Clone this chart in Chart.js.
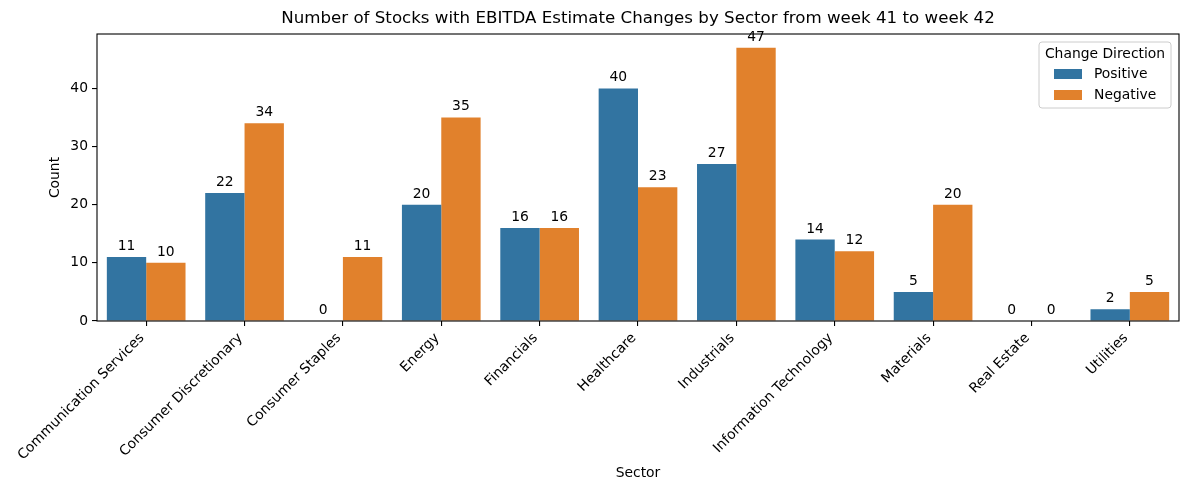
<!DOCTYPE html>
<html>
<head>
<meta charset="utf-8">
<script src="https://cdn.jsdelivr.net/npm/chart.js@4"></script>
<style>
  html, body { margin: 0; padding: 0; background: #fff; }
  #wrap { width: 1184px; height: 486px; }
</style>
</head>
<body>
<div id="wrap"><canvas id="c" width="1184" height="486"></canvas></div>
<script>
const categories = ["Communication Services", "Consumer Discretionary", "Consumer Staples", "Energy", "Financials", "Healthcare", "Industrials", "Information Technology", "Materials", "Real Estate", "Utilities"];
const positive = [11, 22, 0, 20, 16, 40, 27, 14, 5, 0, 2];
const negative = [10, 34, 11, 35, 16, 23, 47, 12, 20, 0, 5];
const seriesNames = ["Positive", "Negative"];
const yTicks = [0, 10, 20, 30, 40];
const titleText = "Number of Stocks with EBITDA Estimate Changes by Sector from week 41 to week 42";
const legendTitle = "Change Direction";

const COLORS = ["#3274a1", "#e1812c"];
const FONT = "DejaVu Sans";
const FS = 13.89;

Chart.defaults.color = "#000";
Chart.defaults.font.family = FONT;

const yMax = Math.max(...positive, ...negative) * 1.05;

const framePlugin = {
  id: "frame",
  afterDraw(chart) {
    const { ctx, chartArea: a } = chart;
    ctx.save();
    ctx.strokeStyle = "#000";
    ctx.lineWidth = 1.1;
    ctx.strokeRect(a.left, a.top, a.right - a.left, a.bottom - a.top);
    ctx.restore();
  }
};

const labelPlugin = {
  id: "barLabels",
  afterDatasetsDraw(chart) {
    const { ctx } = chart;
    ctx.save();
    ctx.font = FS + "px '" + FONT + "'";
    ctx.fillStyle = "#000";
    ctx.textAlign = "center";
    ctx.textBaseline = "alphabetic";
    chart.data.datasets.forEach((ds, i) => {
      const meta = chart.getDatasetMeta(i);
      meta.data.forEach((el, j) => {
        ctx.fillText(String(ds.data[j]), el.x, el.y - 7);
      });
    });
    ctx.restore();
  }
};

const legendPlugin = {
  id: "customLegend",
  afterDraw(chart) {
    const { ctx, chartArea: a } = chart;
    const w = 132, h = 66;
    const x = a.right - 8 - w, y = a.top + 8;
    ctx.save();
    ctx.beginPath();
    const r = 3;
    ctx.moveTo(x + r, y);
    ctx.arcTo(x + w, y, x + w, y + h, r);
    ctx.arcTo(x + w, y + h, x, y + h, r);
    ctx.arcTo(x, y + h, x, y, r);
    ctx.arcTo(x, y, x + w, y, r);
    ctx.closePath();
    ctx.fillStyle = "rgba(255,255,255,0.8)";
    ctx.fill();
    ctx.strokeStyle = "#cccccc";
    ctx.lineWidth = 1;
    ctx.stroke();
    ctx.font = FS + "px '" + FONT + "'";
    ctx.fillStyle = "#000";
    ctx.textBaseline = "middle";
    ctx.textAlign = "center";
    ctx.fillText(legendTitle, x + w / 2, y + 12);
    seriesNames.forEach((name, i) => {
      const cy = y + 32 + i * 21;
      ctx.fillStyle = COLORS[i];
      ctx.fillRect(x + 15, cy - 5, 28, 10);
      ctx.fillStyle = "#000";
      ctx.textAlign = "left";
      ctx.fillText(name, x + 55, cy);
    });
    ctx.restore();
  }
};

new Chart(document.getElementById("c"), {
  type: "bar",
  data: {
    labels: categories,
    datasets: [
      { label: seriesNames[0], data: positive, backgroundColor: COLORS[0], borderWidth: 0, categoryPercentage: 0.8, barPercentage: 1.0 },
      { label: seriesNames[1], data: negative, backgroundColor: COLORS[1], borderWidth: 0, categoryPercentage: 0.8, barPercentage: 1.0 }
    ]
  },
  options: {
    responsive: false,
    animation: false,
    devicePixelRatio: 1,
    layout: { padding: { left: 0, right: 5, top: 0, bottom: 0 } },
    plugins: {
      legend: { display: false },
      tooltip: { enabled: false },
      title: {
        display: true,
        text: titleText,
        fullSize: false,
        color: "#000",
        font: { family: FONT, size: 16.67, weight: "normal", lineHeight: 1.2 },
        padding: { top: 9, bottom: 5 }
      }
    },
    scales: {
      x: {
        grid: { display: true, drawOnChartArea: false, drawTicks: true, tickLength: 5, tickColor: "#000", lineWidth: 1.1, offset: false },
        border: { display: false },
        ticks: { autoSkip: false, minRotation: 45, maxRotation: 45, padding: 4, labelOffset: -4, color: "#000", font: { family: FONT, size: FS } },
        title: { display: true, text: "Sector", color: "#000", font: { family: FONT, size: FS }, padding: { top: 0, bottom: 4.7 } },
        afterFit(scale) { scale.height = 165; }
      },
      y: {
        min: 0,
        max: yMax,
        grid: { display: true, drawOnChartArea: false, drawTicks: true, tickLength: 5, tickColor: "#000", lineWidth: 1.1 },
        border: { display: false },
        afterBuildTicks(scale) { scale.ticks = yTicks.map(v => ({ value: v })); },
        ticks: { padding: 4, color: "#000", font: { family: FONT, size: FS } },
        title: { display: true, text: "Count", color: "#000", font: { family: FONT, size: FS }, padding: { top: 47.5, bottom: 0 } },
        afterFit(scale) { scale.width = 97; }
      }
    }
  },
  plugins: [framePlugin, labelPlugin, legendPlugin]
});
</script>
</body>
</html>
